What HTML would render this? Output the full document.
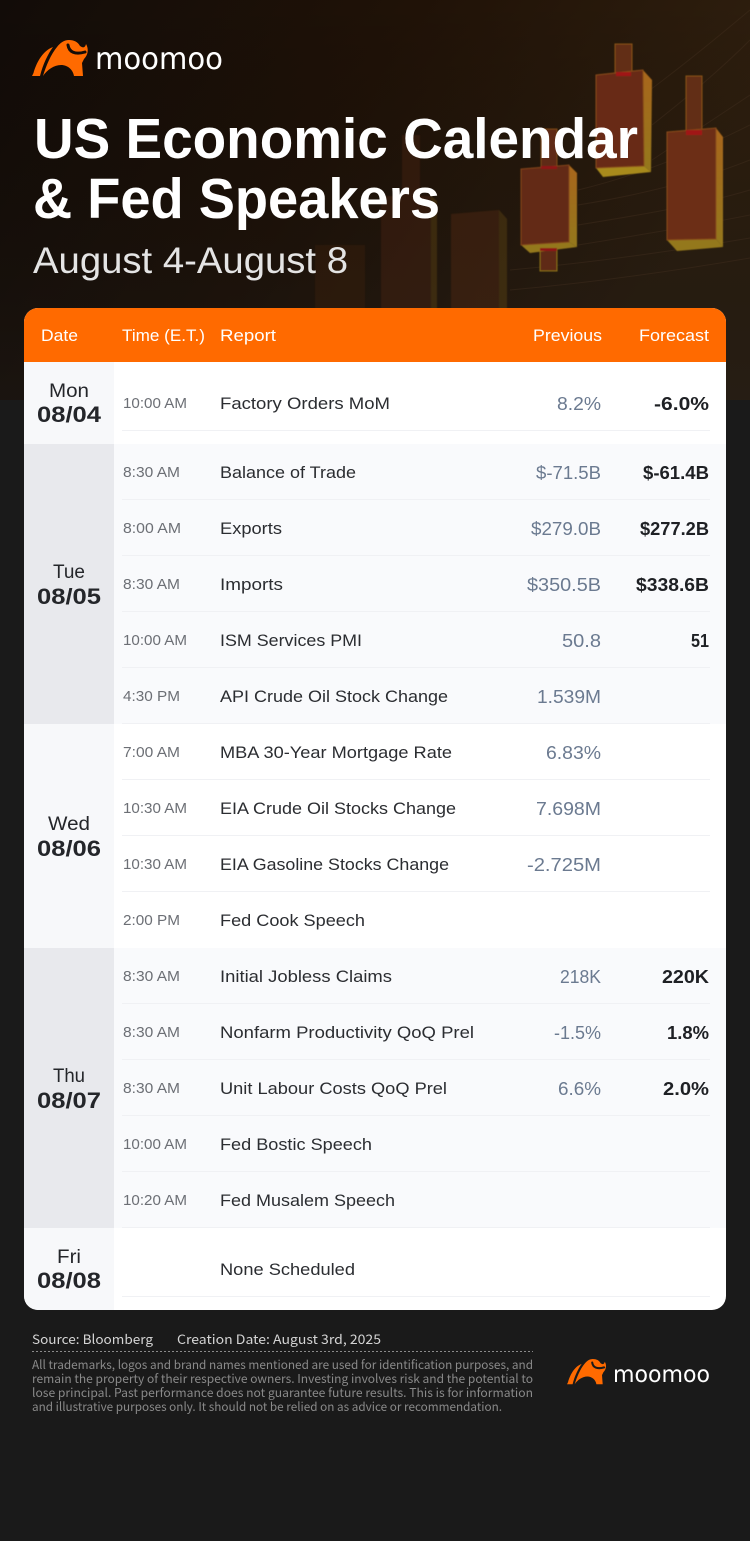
<!DOCTYPE html>
<html lang="en">
<head>
<meta charset="utf-8">
<title>US Economic Calendar &amp; Fed Speakers</title>
<style>
html,body{margin:0;padding:0;width:750px;height:1541px;background:#1a1a1a;overflow:hidden}
svg{display:block}
text{font-family:"Liberation Sans",sans-serif}
.hd{font-size:17px;fill:#fff}
.day{font-size:19px;fill:#24262a;text-anchor:start}
.dt{font-size:22px;font-weight:700;fill:#24262a}
.tm{font-size:15px;fill:#6c6f75}
.rp{font-size:17px;fill:#2b2d31}
.pv{font-size:18px;fill:#6b7a90}
.fc{font-size:18px;font-weight:700;fill:#1e2024}
.sep{stroke:#f0f1f4;stroke-width:1}
.src{font-family:"Noto Sans CJK SC","Liberation Sans",sans-serif;font-size:13px;fill:#d4d4d4}
.dis{font-family:"Noto Sans CJK SC","Liberation Sans",sans-serif;font-size:12px;fill:#8a8a8a}
.logo{font-family:"DejaVu Sans",sans-serif}
</style>
</head>
<body>
<svg xmlns="http://www.w3.org/2000/svg" width="750" height="1541" viewBox="0 0 750 1541">
<defs>
<linearGradient id="heroGrad" x1="0" y1="0" x2="1" y2="0.35">
<stop offset="0" stop-color="#120c08"/>
<stop offset="0.5" stop-color="#201207"/>
<stop offset="1" stop-color="#30200f"/>
</linearGradient>
<linearGradient id="heroFade" x1="0" y1="0" x2="0" y2="1">
<stop offset="0" stop-color="#000" stop-opacity="0"/>
<stop offset="1" stop-color="#1a1a1a" stop-opacity="0.45"/>
</linearGradient>
<linearGradient id="sideGold" x1="0" y1="0" x2="0" y2="1">
<stop offset="0" stop-color="#a8661a"/>
<stop offset="1" stop-color="#94781c"/>
</linearGradient>
<filter id="soft" x="-5%" y="-5%" width="110%" height="110%"><feGaussianBlur stdDeviation="0.6"/></filter>
<clipPath id="cardClip"><rect x="24" y="308" width="702" height="1002" rx="14"/></clipPath>
<path id="bull" d="M0 36 L1.500 33 C4 24 10 11 21 7 C16 14 11 24 8 36 Z M11 36 C14 26 19 14 25 7 C28 3 32 0 37 0 C42 0 46 2 48 6 C51 8 53 8 54 4 C57 9 56 15 52 19 L50 23 L51 36 L42 36 C41 30 36 25 29 25 C22 25 15 30 11 36 Z"/>
<path id="bullSwoosh" fill="none" stroke-width="3" stroke-linecap="round" d="M36 5 C37 12 43 15 53 12"/>
</defs>

<rect width="750" height="1541" fill="#1a1a1a"/>
<g>
<rect width="750" height="400" fill="url(#heroGrad)"/>
<rect width="750" height="400" fill="url(#heroFade)"/>
<g fill="none" stroke="#4a3524" stroke-width="1" opacity="0.35">
<path d="M650 90 C690 60 720 35 750 10"/>
<path d="M652 125 C690 95 720 70 750 40"/>
<path d="M652 160 C690 135 720 115 750 95"/>
<path d="M578 190 C640 175 700 150 750 125"/>
<path d="M578 205 C640 195 700 180 750 160"/>
<path d="M578 225 C640 215 700 205 750 190"/>
<path d="M578 245 C640 235 700 225 750 215"/>
<path d="M510 270 C600 262 680 250 750 238"/>
<path d="M510 290 C600 282 680 270 750 258"/>
</g>
<g opacity="0.3" filter="url(#soft)">
<rect x="315" y="245" width="50" height="70" fill="#4a2510"/>
<rect x="402" y="135" width="18" height="65" fill="#5c2c12"/>
<rect x="381" y="196" width="50" height="115" fill="#5c2c12"/>
<polygon points="431,196 437,201 437,311 431,311" fill="#7a5a18"/>
<polygon points="451,214 499,210 507,219 507,311 499,311 451,311" fill="#6a3214"/>
<polygon points="499,210 507,219 507,311 499,311" fill="#7a5a18"/>
</g>
<g filter="url(#soft)">
<rect x="541" y="129" width="16" height="40" fill="#5e2c12" stroke="#7e4a14"/>
<rect x="540" y="248" width="17" height="23" fill="#5e2c12" stroke="#8a7014"/>
<polygon points="521,245 569,242 577,247 530,253" fill="#94781c"/>
<polygon points="569,165 577,173 577,247 569,242" fill="url(#sideGold)"/>
<polygon points="521,169 569,165 569,242 521,245" fill="#642c12" stroke="#84441a"/>
<rect x="541" y="166" width="16" height="3" fill="#901414"/>
<rect x="540" y="248" width="17" height="3" fill="#901414"/>
</g>
<g filter="url(#soft)">
<rect x="615" y="44" width="17" height="30" fill="#622e12" stroke="#8a5218"/>
<polygon points="596,168 644,166 651,172 603,177" fill="#a88a1c"/>
<polygon points="643,70 652,80 651,172 644,166" fill="url(#sideGold)"/>
<polygon points="596,75 643,70 644,166 596,168" fill="#682c12" stroke="#8a4c1a"/>
<rect x="616" y="72" width="15" height="4" fill="#a01212"/>
</g>
<g filter="url(#soft)">
<rect x="686" y="76" width="16" height="56" fill="#622e12" stroke="#8a5218"/>
<polygon points="667,240 716,239 723,247 677,251" fill="#94781c"/>
<polygon points="716,128 723,137 723,247 716,239" fill="url(#sideGold)"/>
<polygon points="667,132 716,128 716,239 667,240" fill="#6c2e12" stroke="#8a4c1a"/>
<rect x="686" y="130" width="16" height="5" fill="#a01212"/>
</g>
</g>

<g>
<use href="#bull" transform="translate(32,40)" fill="#ff6a00"/>
<use href="#bullSwoosh" transform="translate(32,40)" stroke="#140d08"/>
<text class="logo" x="95" y="69" font-size="30" fill="#fff" textLength="128" lengthAdjust="spacingAndGlyphs">moomoo</text>
</g>

<text x="34" y="158" font-size="57" font-weight="700" fill="#fff" textLength="604" lengthAdjust="spacingAndGlyphs">US Economic Calendar</text>
<text x="33" y="218" font-size="57" font-weight="700" fill="#fff" textLength="407" lengthAdjust="spacingAndGlyphs">&amp; Fed Speakers</text>
<text x="33" y="273" font-size="37" fill="#e4e4e4" textLength="315" lengthAdjust="spacingAndGlyphs">August 4-August 8</text>

<g clip-path="url(#cardClip)">
<rect x="24" y="308" width="702" height="1002" fill="#fff"/>
<rect x="24" y="308" width="702" height="54" fill="#ff6a00"/>
<rect x="114" y="444" width="612" height="280" fill="#f9fafc"/>
<rect x="114" y="948" width="612" height="280" fill="#f9fafc"/>
<rect x="24" y="362" width="90" height="82" fill="#f7f8fa"/>
<rect x="24" y="444" width="90" height="280" fill="#e8e9ed"/>
<rect x="24" y="724" width="90" height="224" fill="#f7f8fa"/>
<rect x="24" y="948" width="90" height="280" fill="#e8e9ed"/>
<rect x="24" y="1228" width="90" height="82" fill="#f7f8fa"/>
</g>

<g>
<text class="hd" x="41" y="341" textLength="37" lengthAdjust="spacingAndGlyphs">Date</text>
<text class="hd" x="122" y="341" textLength="83" lengthAdjust="spacingAndGlyphs">Time (E.T.)</text>
<text class="hd" x="220" y="341" textLength="56" lengthAdjust="spacingAndGlyphs">Report</text>
<text class="hd" x="533" y="341" textLength="69" lengthAdjust="spacingAndGlyphs">Previous</text>
<text class="hd" x="639" y="341" textLength="70" lengthAdjust="spacingAndGlyphs">Forecast</text>
</g>

<g>
<line class="sep" x1="122" x2="710" y1="430.500" y2="430.500"/>
<line class="sep" x1="122" x2="710" y1="499.500" y2="499.500"/>
<line class="sep" x1="122" x2="710" y1="555.500" y2="555.500"/>
<line class="sep" x1="122" x2="710" y1="611.500" y2="611.500"/>
<line class="sep" x1="122" x2="710" y1="667.500" y2="667.500"/>
<line class="sep" x1="122" x2="710" y1="723.500" y2="723.500"/>
<line class="sep" x1="122" x2="710" y1="779.500" y2="779.500"/>
<line class="sep" x1="122" x2="710" y1="835.500" y2="835.500"/>
<line class="sep" x1="122" x2="710" y1="891.500" y2="891.500"/>
<line class="sep" x1="122" x2="710" y1="1003.500" y2="1003.500"/>
<line class="sep" x1="122" x2="710" y1="1059.500" y2="1059.500"/>
<line class="sep" x1="122" x2="710" y1="1115.500" y2="1115.500"/>
<line class="sep" x1="122" x2="710" y1="1171.500" y2="1171.500"/>
<line class="sep" x1="122" x2="710" y1="1227.500" y2="1227.500"/>
<line class="sep" x1="122" x2="710" y1="1296.500" y2="1296.500"/>
</g>

<g>
<text class="day" x="49" y="397" textLength="40" lengthAdjust="spacingAndGlyphs">Mon</text>
<text class="dt" x="37" y="422" textLength="64" lengthAdjust="spacingAndGlyphs">08/04</text>
<text class="day" x="53" y="578" textLength="32" lengthAdjust="spacingAndGlyphs">Tue</text>
<text class="dt" x="37" y="604" textLength="64" lengthAdjust="spacingAndGlyphs">08/05</text>
<text class="day" x="48" y="830" textLength="42" lengthAdjust="spacingAndGlyphs">Wed</text>
<text class="dt" x="37" y="856" textLength="64" lengthAdjust="spacingAndGlyphs">08/06</text>
<text class="day" x="53" y="1082" textLength="32" lengthAdjust="spacingAndGlyphs">Thu</text>
<text class="dt" x="37" y="1108" textLength="64" lengthAdjust="spacingAndGlyphs">08/07</text>
<text class="day" x="57" y="1263" textLength="24" lengthAdjust="spacingAndGlyphs">Fri</text>
<text class="dt" x="37" y="1288" textLength="64" lengthAdjust="spacingAndGlyphs">08/08</text>
</g>

<g>
<text class="tm" x="123" y="408" textLength="64" lengthAdjust="spacingAndGlyphs">10:00 AM</text>
<text class="rp" x="220" y="409" textLength="170" lengthAdjust="spacingAndGlyphs">Factory Orders MoM</text>
<text class="pv" x="557" y="410" textLength="44" lengthAdjust="spacingAndGlyphs">8.2%</text>
<text class="fc" x="654" y="410" textLength="55" lengthAdjust="spacingAndGlyphs">-6.0%</text>
</g>
<g>
<text class="tm" x="123" y="477" textLength="57" lengthAdjust="spacingAndGlyphs">8:30 AM</text>
<text class="rp" x="220" y="478" textLength="136" lengthAdjust="spacingAndGlyphs">Balance of Trade</text>
<text class="pv" x="536" y="479" textLength="65" lengthAdjust="spacingAndGlyphs">$-71.5B</text>
<text class="fc" x="643" y="479" textLength="66" lengthAdjust="spacingAndGlyphs">$-61.4B</text>
</g>
<g>
<text class="tm" x="123" y="533" textLength="58" lengthAdjust="spacingAndGlyphs">8:00 AM</text>
<text class="rp" x="220" y="534" textLength="62" lengthAdjust="spacingAndGlyphs">Exports</text>
<text class="pv" x="531" y="535" textLength="70" lengthAdjust="spacingAndGlyphs">$279.0B</text>
<text class="fc" x="640" y="535" textLength="69" lengthAdjust="spacingAndGlyphs">$277.2B</text>
</g>
<g>
<text class="tm" x="123" y="589" textLength="57" lengthAdjust="spacingAndGlyphs">8:30 AM</text>
<text class="rp" x="220" y="590" textLength="63" lengthAdjust="spacingAndGlyphs">Imports</text>
<text class="pv" x="527" y="591" textLength="74" lengthAdjust="spacingAndGlyphs">$350.5B</text>
<text class="fc" x="636" y="591" textLength="73" lengthAdjust="spacingAndGlyphs">$338.6B</text>
</g>
<g>
<text class="tm" x="123" y="645" textLength="64" lengthAdjust="spacingAndGlyphs">10:00 AM</text>
<text class="rp" x="220" y="646" textLength="142" lengthAdjust="spacingAndGlyphs">ISM Services PMI</text>
<text class="pv" x="562" y="647" textLength="39" lengthAdjust="spacingAndGlyphs">50.8</text>
<text class="fc" x="691" y="647" textLength="18" lengthAdjust="spacingAndGlyphs">51</text>
</g>
<g>
<text class="tm" x="123" y="701" textLength="57" lengthAdjust="spacingAndGlyphs">4:30 PM</text>
<text class="rp" x="220" y="702" textLength="228" lengthAdjust="spacingAndGlyphs">API Crude Oil Stock Change</text>
<text class="pv" x="537" y="703" textLength="64" lengthAdjust="spacingAndGlyphs">1.539M</text>
</g>
<g>
<text class="tm" x="123" y="757" textLength="57" lengthAdjust="spacingAndGlyphs">7:00 AM</text>
<text class="rp" x="220" y="758" textLength="232" lengthAdjust="spacingAndGlyphs">MBA 30-Year Mortgage Rate</text>
<text class="pv" x="546" y="759" textLength="55" lengthAdjust="spacingAndGlyphs">6.83%</text>
</g>
<g>
<text class="tm" x="123" y="813" textLength="64" lengthAdjust="spacingAndGlyphs">10:30 AM</text>
<text class="rp" x="220" y="814" textLength="236" lengthAdjust="spacingAndGlyphs">EIA Crude Oil Stocks Change</text>
<text class="pv" x="536" y="815" textLength="65" lengthAdjust="spacingAndGlyphs">7.698M</text>
</g>
<g>
<text class="tm" x="123" y="869" textLength="64" lengthAdjust="spacingAndGlyphs">10:30 AM</text>
<text class="rp" x="220" y="870" textLength="229" lengthAdjust="spacingAndGlyphs">EIA Gasoline Stocks Change</text>
<text class="pv" x="527" y="871" textLength="74" lengthAdjust="spacingAndGlyphs">-2.725M</text>
</g>
<g>
<text class="tm" x="123" y="925" textLength="57" lengthAdjust="spacingAndGlyphs">2:00 PM</text>
<text class="rp" x="220" y="926" textLength="145" lengthAdjust="spacingAndGlyphs">Fed Cook Speech</text>
</g>
<g>
<text class="tm" x="123" y="981" textLength="57" lengthAdjust="spacingAndGlyphs">8:30 AM</text>
<text class="rp" x="220" y="982" textLength="172" lengthAdjust="spacingAndGlyphs">Initial Jobless Claims</text>
<text class="pv" x="560" y="983" textLength="41" lengthAdjust="spacingAndGlyphs">218K</text>
<text class="fc" x="662" y="983" textLength="47" lengthAdjust="spacingAndGlyphs">220K</text>
</g>
<g>
<text class="tm" x="123" y="1037" textLength="57" lengthAdjust="spacingAndGlyphs">8:30 AM</text>
<text class="rp" x="220" y="1038" textLength="254" lengthAdjust="spacingAndGlyphs">Nonfarm Productivity QoQ Prel</text>
<text class="pv" x="554" y="1039" textLength="47" lengthAdjust="spacingAndGlyphs">-1.5%</text>
<text class="fc" x="667" y="1039" textLength="42" lengthAdjust="spacingAndGlyphs">1.8%</text>
</g>
<g>
<text class="tm" x="123" y="1093" textLength="57" lengthAdjust="spacingAndGlyphs">8:30 AM</text>
<text class="rp" x="220" y="1094" textLength="227" lengthAdjust="spacingAndGlyphs">Unit Labour Costs QoQ Prel</text>
<text class="pv" x="558" y="1095" textLength="43" lengthAdjust="spacingAndGlyphs">6.6%</text>
<text class="fc" x="663" y="1095" textLength="46" lengthAdjust="spacingAndGlyphs">2.0%</text>
</g>
<g>
<text class="tm" x="123" y="1149" textLength="64" lengthAdjust="spacingAndGlyphs">10:00 AM</text>
<text class="rp" x="220" y="1150" textLength="152" lengthAdjust="spacingAndGlyphs">Fed Bostic Speech</text>
</g>
<g>
<text class="tm" x="123" y="1205" textLength="64" lengthAdjust="spacingAndGlyphs">10:20 AM</text>
<text class="rp" x="220" y="1206" textLength="175" lengthAdjust="spacingAndGlyphs">Fed Musalem Speech</text>
</g>
<g>
<text class="rp" x="220" y="1275" textLength="135" lengthAdjust="spacingAndGlyphs">None Scheduled</text>
</g>

<g>
<text class="src" x="32" y="1344" textLength="121" lengthAdjust="spacingAndGlyphs">Source: Bloomberg</text>
<text class="src" x="177" y="1344" textLength="204" lengthAdjust="spacingAndGlyphs">Creation Date: August 3rd, 2025</text>
<line x1="32" x2="533" y1="1351.500" y2="1351.500" stroke="#8a8a8a" stroke-width="1" stroke-dasharray="2 2"/>
<g>
<text class="dis" x="32" y="1369" textLength="501" lengthAdjust="spacingAndGlyphs">All trademarks, logos and brand names mentioned are used for identification purposes, and</text>
<text class="dis" x="32" y="1383" textLength="501" lengthAdjust="spacingAndGlyphs">remain the property of their respective owners. Investing involves risk and the potential to</text>
<text class="dis" x="32" y="1397" textLength="501" lengthAdjust="spacingAndGlyphs">lose principal. Past performance does not guarantee future results. This is for information</text>
<text class="dis" x="32" y="1411" textLength="470" lengthAdjust="spacingAndGlyphs">and illustrative purposes only. It should not be relied on as advice or recommendation.</text>
</g>
<g>
<use href="#bull" transform="translate(567,1359) scale(0.7)" fill="#ff6a00"/>
<use href="#bullSwoosh" transform="translate(567,1359) scale(0.7)" stroke="#1a1a1a"/>
<text class="logo" x="613" y="1382" font-size="23" fill="#fff" textLength="97" lengthAdjust="spacingAndGlyphs">moomoo</text>
</g>
</g>
</svg>
</body>
</html>
